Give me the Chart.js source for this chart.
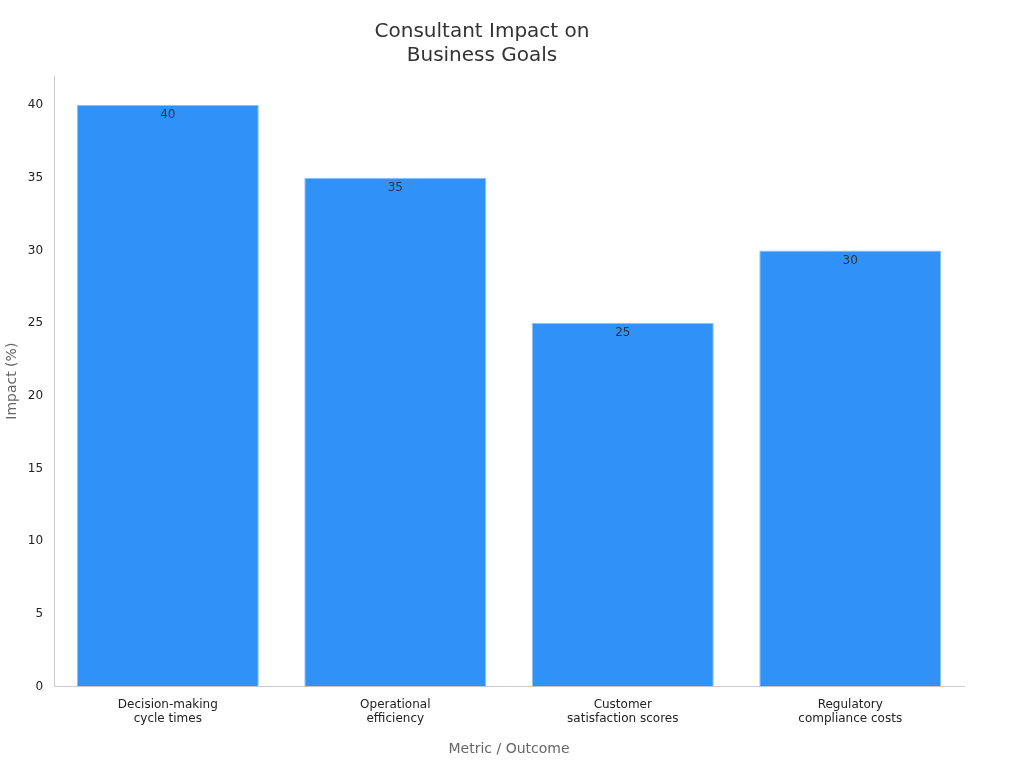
<!DOCTYPE html>
<html>
<head>
<meta charset="utf-8">
<script src="https://cdn.jsdelivr.net/npm/chart.js@4"></script>
<style>
  html, body { margin: 0; padding: 0; background: #fff; }
  #wrap { width: 1024px; height: 768px; }
</style>
</head>
<body>
<div id="wrap"><canvas id="chart"></canvas></div>
<script>
var categories = [['Decision-making', 'cycle times'], ['Operational', 'efficiency'], ['Customer', 'satisfaction scores'], ['Regulatory', 'compliance costs']];
var impactValues = [40, 35, 25, 30];

Chart.defaults.font.family = '"DejaVu Sans", sans-serif';

var barLabels = {
    id: 'barLabels',
    afterDatasetsDraw: function (chart) {
        var ctx = chart.ctx;
        var meta = chart.getDatasetMeta(0);
        ctx.save();
        ctx.font = '12px "DejaVu Sans", sans-serif';
        ctx.fillStyle = '#333';
        ctx.textAlign = 'center';
        ctx.textBaseline = 'top';
        meta.data.forEach(function (bar, i) {
            ctx.fillText(impactValues[i], bar.x, bar.y + 4);
        });
        ctx.restore();
    }
};

new Chart(document.getElementById('chart').getContext('2d'), {
    type: 'bar',
    data: {
        labels: categories,
        datasets: [{
            data: impactValues,
            backgroundColor: '#3092f7',
            borderColor: '#8cc0f5',
            borderWidth: 1,
            barPercentage: 0.8,
            categoryPercentage: 1,
        }],
    },
    options: {
        responsive: true,
        maintainAspectRatio: false,
        animation: false,
        layout: { padding: { left: 0, right: 60, top: 10, bottom: 6 } },
        plugins: {
            legend: { display: false },
            tooltip: { enabled: false },
            title: {
                display: true,
                text: ['Consultant Impact on', 'Business Goals'],
                color: '#333',
                font: { size: 20, weight: 'normal' },
                padding: { top: 10, bottom: 8 },
            },
        },
        scales: {
            x: {
                grid: { display: false, drawTicks: true },
                border: { color: '#ccc' },
                ticks: { color: '#222', font: { size: 12 } },
                title: { display: true, text: 'Metric / Outcome', color: '#666', font: { size: 14 }, padding: { top: 12 } },
            },
            y: {
                min: 0,
                max: 42,
                grid: { display: false },
                border: { color: '#ccc' },
                ticks: { stepSize: 5, color: '#222', font: { size: 12 }, callback: function (v) { return v % 5 === 0 ? v : null; } },
                afterBuildTicks: function (axis) { axis.ticks = axis.ticks.filter(function (t) { return t.value % 5 === 0; }); },
                title: { display: true, text: 'Impact (%)', color: '#666', font: { size: 14 } },
            },
        },
    },
    plugins: [barLabels],
});
</script>
</body>
</html>
